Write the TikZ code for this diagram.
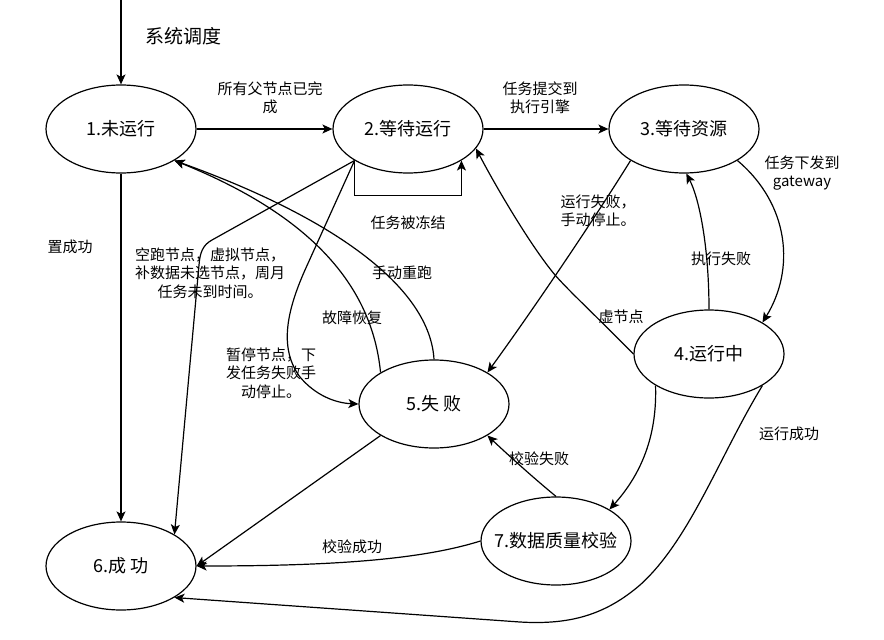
\documentclass[tikz,border=0pt]{standalone}
\usepackage{fontspec}
\setmainfont{Noto Sans CJK SC}
\usetikzlibrary{shapes.geometric,arrows.meta}
\begin{document}
\begin{tikzpicture}[x=1pt,y=-1pt,
  st/.style={draw, ellipse, minimum width=150pt, minimum height=88pt, inner sep=0pt, line width=1.2pt},
  stlabel/.style={font=\fontsize{18}{22}\selectfont, inner sep=0pt},
  lbl/.style={font=\fontsize{15}{18.5}\selectfont, align=center, inner sep=0pt},
  conn/.style={line width=1.2pt, -{Stealth[length=10pt,width=9pt,inset=2.5pt]}},
]
\fill[white] (0,0) rectangle (884,640);
\useasboundingbox (0,0) rectangle (884,640);

% states
\node[st] (n1) at (121,129) {};
\node[st] (n2) at (408,129) {};
\node[st] (n3) at (684,129) {};
\node[st] (n4) at (709,354) {};
\node[st] (n5) at (434,404) {};
\node[st] (n6) at (121,566) {};
\node[st] (n7) at (556,541) {};
\node[stlabel] (s1) at (n1) {1.未运行};
\node[stlabel] (s2) at (n2) {2.等待运行};
\node[stlabel] (s3) at (n3) {3.等待资源};
\node[stlabel] (s4) at (n4) {4.运行中};
\node[stlabel] (s5) at (n5) {5.失 败};
\node[stlabel] (s6) at (n6) {6.成 功};
\node[stlabel] (s7) at (n7) {7.数据质量校验};

% connectors
\coordinate (top) at (121,0);
\draw[conn] (top) -- (n1.north);
\draw[conn] (n1.east) -- (n2.west);
\draw[conn] (n2.east) -- (n3.west);
\draw[conn] (n2.south west) -- ++(0,35) -| (n2.south east);
\draw[conn] (n1.south) -- (n6.north);
\draw[conn] (n2.south west) -- (212,240) .. controls (203,245) and (200,252) .. (199,265) -- (n6.north east);
\draw[conn] (n2.south west) -- (305,270) .. controls (285,315) and (280,350) .. (300,377) .. controls (315,395) and (335,403) .. (n5.west);
\draw[conn] (n5.north west) .. controls (372,285) and (310,215) .. (n1.south east);
\draw[conn] (n5.north) .. controls (430,290) and (340,220) .. (n1.south east);
\draw[conn] (n3.south west) .. controls (600,210) and (540,300) .. (n5.north east);
\draw[conn] (n4.west) .. controls (590,310) and (570,292) .. (555,275) .. controls (530,245) and (495,185) .. (n2.-16);
\draw[conn] (n4.north) .. controls (709,250) and (700,200) .. (n3.-87);
\draw[conn] (n3.south east) .. controls (790,205) and (795,270) .. (n4.north east);
\draw[conn] (n4.south west) .. controls (657,430) and (645,470) .. (n7.north east);
\draw[conn] (n7.north) .. controls (530,475) and (505,452) .. (n5.south east);
\draw[conn] (n5.south west) -- (n6.east);
\draw[conn] (n7.west) .. controls (420,560) and (330,566) .. (n6.east);
\draw[conn] (n4.south east) .. controls (720,455) and (690,540) .. (640,585) .. controls (605,615) and (570,625) .. (520,622) -- (n6.south east);

% labels
\node[lbl, font=\fontsize{19}{22}\selectfont] (l0) at (183,36) {系统调度};
\node[lbl] (l1) at (270,98) {所有父节点已完\\成};
\node[lbl] (l2) at (540,98) {任务提交到\\执行引擎};
\node[lbl] (l3) at (408,223) {任务被冻结};
\node[lbl] (l4) at (70,247) {置成功};
\node[lbl] (l5) at (210,273) {空跑节点，虚拟节点，\\补数据未选节点，周月\\任务未到时间。};
\node[lbl] (l6) at (271,373) {暂停节点，下\\发任务失败手\\动停止。};
\node[lbl] (l7) at (352,318) {故障恢复};
\node[lbl] (l8) at (402,273) {手动重跑};
\node[lbl] (l9) at (598,211) {运行失败，\\手动停止。};
\node[lbl] (l10) at (802,173) {任务下发到\\gateway};
\node[lbl] (l11) at (721,259) {执行失败};
\node[lbl] (l12) at (621,317) {虚节点};
\node[lbl] (l13) at (539,459) {校验失败};
\node[lbl] (l14) at (789,434) {运行成功};
\node[lbl] (l15) at (352,547) {校验成功};
\end{tikzpicture}
\end{document}
